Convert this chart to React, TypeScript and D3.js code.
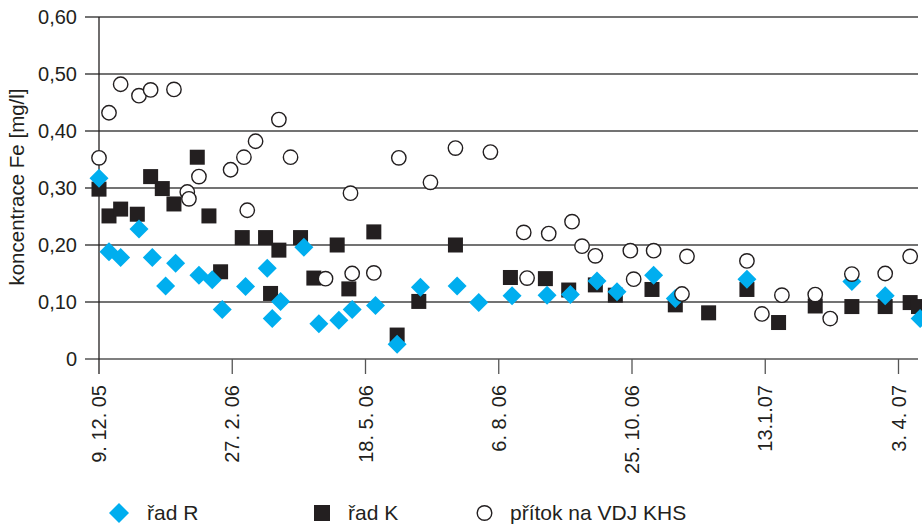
import React, { useEffect, useRef } from 'react';
import * as d3 from 'd3';

type Point = [string, number];

// řad R (modré kosočtverce)
const radR: Point[] = [
    ['2005-12-09', 0.317], ['2005-12-15', 0.188], ['2005-12-22', 0.178], ['2006-01-02', 0.228],
    ['2006-01-10', 0.178], ['2006-01-18', 0.128], ['2006-01-24', 0.168], ['2006-02-07', 0.147],
    ['2006-02-15', 0.139], ['2006-02-21', 0.087], ['2006-03-07', 0.127], ['2006-03-20', 0.159],
    ['2006-03-23', 0.071], ['2006-03-28', 0.101], ['2006-04-11', 0.196], ['2006-04-20', 0.062],
    ['2006-05-02', 0.068], ['2006-05-10', 0.087], ['2006-05-24', 0.094], ['2006-06-06', 0.026],
    ['2006-06-20', 0.126], ['2006-07-12', 0.128], ['2006-07-25', 0.099], ['2006-08-14', 0.111],
    ['2006-09-04', 0.112], ['2006-09-18', 0.113], ['2006-10-04', 0.137], ['2006-10-16', 0.118],
    ['2006-11-07', 0.147], ['2006-11-20', 0.106], ['2007-01-02', 0.140], ['2007-03-06', 0.136],
    ['2007-03-26', 0.111], ['2007-04-16', 0.071]
];

// řad K (černé čtverce)
const radK: Point[] = [
    ['2005-12-09', 0.298], ['2005-12-15', 0.251], ['2005-12-22', 0.263], ['2006-01-01', 0.254],
    ['2006-01-09', 0.320], ['2006-01-16', 0.299], ['2006-01-23', 0.272], ['2006-02-06', 0.354],
    ['2006-02-13', 0.251], ['2006-02-20', 0.153], ['2006-03-05', 0.213], ['2006-03-19', 0.213],
    ['2006-03-22', 0.115], ['2006-03-27', 0.191], ['2006-04-09', 0.213], ['2006-04-17', 0.142],
    ['2006-05-01', 0.200], ['2006-05-08', 0.123], ['2006-05-23', 0.223], ['2006-06-06', 0.042],
    ['2006-06-19', 0.101], ['2006-07-11', 0.200], ['2006-08-13', 0.143], ['2006-09-03', 0.141],
    ['2006-09-17', 0.121], ['2006-10-03', 0.130], ['2006-10-15', 0.112], ['2006-11-06', 0.122],
    ['2006-11-20', 0.095], ['2006-12-10', 0.081], ['2007-01-02', 0.122], ['2007-01-21', 0.064],
    ['2007-02-12', 0.093], ['2007-03-06', 0.092], ['2007-03-26', 0.092], ['2007-04-10', 0.099],
    ['2007-04-15', 0.092]
];

// přítok na VDJ KHS (prázdné kroužky)
const pritok: Point[] = [
    ['2005-12-09', 0.353], ['2005-12-15', 0.432], ['2005-12-22', 0.482], ['2006-01-02', 0.462],
    ['2006-01-09', 0.472], ['2006-01-23', 0.473], ['2006-01-31', 0.293], ['2006-02-01', 0.281],
    ['2006-02-07', 0.320], ['2006-02-26', 0.332], ['2006-03-06', 0.354], ['2006-03-08', 0.261],
    ['2006-03-13', 0.382], ['2006-03-27', 0.420], ['2006-04-03', 0.354], ['2006-04-24', 0.141],
    ['2006-05-09', 0.291], ['2006-05-10', 0.150], ['2006-05-23', 0.151], ['2006-06-07', 0.353],
    ['2006-06-26', 0.310], ['2006-07-11', 0.370], ['2006-08-01', 0.363], ['2006-08-21', 0.222],
    ['2006-08-23', 0.142], ['2006-09-05', 0.220], ['2006-09-19', 0.241], ['2006-09-25', 0.198],
    ['2006-10-03', 0.181], ['2006-10-24', 0.190], ['2006-10-26', 0.140], ['2006-11-07', 0.190],
    ['2006-11-24', 0.114], ['2006-11-27', 0.180], ['2007-01-02', 0.172], ['2007-01-11', 0.079],
    ['2007-01-23', 0.112], ['2007-02-12', 0.113], ['2007-02-21', 0.071], ['2007-03-06', 0.149],
    ['2007-03-26', 0.150], ['2007-04-10', 0.180]
];

const xTickDates = ['2005-12-09', '2006-02-27', '2006-05-18', '2006-08-06', '2006-10-25', '2007-01-13', '2007-04-03'];
const xTickLabels = ['9. 12. 05', '27. 2. 06', '18. 5. 06', '6. 8. 06', '25. 10. 06', '13.1.07', '3. 4. 07'];
const yTicks = [0, 0.1, 0.2, 0.3, 0.4, 0.5, 0.6];
const yTickLabels = ['0', '0,10', '0,20', '0,30', '0,40', '0,50', '0,60'];
const legendLabels = ['řad R', 'řad K', 'přítok na VDJ KHS'];

const blue = '#00aeef';
const dark = '#231f20';
const font = 'Liberation Sans, Arial, Helvetica, sans-serif';

const App = () => {
    const ref = useRef<SVGSVGElement>(null);

    useEffect(() => {
        const width = 922;
        const height = 524;
        const parse = d3.utcParse('%Y-%m-%d');

        const svg = d3.select(ref.current);
        svg.selectAll('*').remove();

        const xScale = d3.scaleUtc()
            .domain([parse('2005-12-09')!, parse('2007-04-03')!])
            .range([99, 898.5]);
        const plotRight = 918;

        const yScale = d3.scaleLinear()
            .domain([0, 0.6])
            .range([359, 17]);

        // mřížka
        svg.append('g')
            .selectAll('line')
            .data(yTicks)
            .enter()
            .append('line')
            .attr('x1', 85)
            .attr('x2', plotRight)
            .attr('y1', d => yScale(d))
            .attr('y2', d => yScale(d))
            .attr('stroke', d => d === 0 ? '#555' : '#444')
            .attr('stroke-width', 1.3);

        svg.append('g')
            .selectAll('text')
            .data(yTicks)
            .enter()
            .append('text')
            .attr('x', 77)
            .attr('y', d => yScale(d))
            .attr('dy', '0.35em')
            .attr('text-anchor', 'end')
            .attr('font-family', font)
            .attr('font-size', 20)
            .attr('fill', dark)
            .text((d, i) => yTickLabels[i]);

        // osa y
        svg.append('line')
            .attr('x1', xScale.range()[0])
            .attr('x2', xScale.range()[0])
            .attr('y1', yScale(0.6))
            .attr('y2', 374)
            .attr('stroke', dark)
            .attr('stroke-width', 1.3);

        // osa x - značky a popisky
        const tickDates = xTickDates.map(d => parse(d)!);
        svg.append('g')
            .selectAll('line')
            .data(tickDates.slice(1))
            .enter()
            .append('line')
            .attr('x1', d => xScale(d))
            .attr('x2', d => xScale(d))
            .attr('y1', yScale(0))
            .attr('y2', 374)
            .attr('stroke', '#555')
            .attr('stroke-width', 1.3);

        svg.append('g')
            .selectAll('text')
            .data(tickDates)
            .enter()
            .append('text')
            .attr('transform', d => `translate(${xScale(d)}, 385) rotate(-90)`)
            .attr('dy', '0.35em')
            .attr('text-anchor', 'end')
            .attr('font-family', font)
            .attr('font-size', 20)
            .attr('fill', dark)
            .text((d, i) => xTickLabels[i]);

        svg.append('text')
            .attr('transform', 'translate(17, 187) rotate(-90)')
            .attr('dy', '0.35em')
            .attr('text-anchor', 'middle')
            .attr('font-family', font)
            .attr('font-size', 20.5)
            .attr('fill', dark)
            .text('koncentrace Fe [mg/l]');

        const diamond = (s: number) => `M0,${-s}L${s},0L0,${s}L${-s},0Z`;

        // body
        svg.append('g')
            .selectAll('rect')
            .data(radK)
            .enter()
            .append('rect')
            .attr('x', d => xScale(parse(d[0])!) - 7.5)
            .attr('y', d => yScale(d[1]) - 7.5)
            .attr('width', 15)
            .attr('height', 15)
            .attr('fill', dark);

        svg.append('g')
            .selectAll('path')
            .data(radR)
            .enter()
            .append('path')
            .attr('transform', d => `translate(${xScale(parse(d[0])!)}, ${yScale(d[1])})`)
            .attr('d', diamond(9.5))
            .attr('fill', blue);

        svg.append('g')
            .selectAll('circle')
            .data(pritok)
            .enter()
            .append('circle')
            .attr('cx', d => xScale(parse(d[0])!))
            .attr('cy', d => yScale(d[1]))
            .attr('r', 7.2)
            .attr('fill', '#fff')
            .attr('stroke', dark)
            .attr('stroke-width', 1.4);

        // legenda
        const legendY = 513;
        const legend = svg.append('g').attr('class', 'legendGroup');
        legend.append('path')
            .attr('transform', `translate(119, ${legendY})`)
            .attr('d', diamond(10))
            .attr('fill', blue);
        legend.append('rect')
            .attr('x', 314)
            .attr('y', legendY - 8)
            .attr('width', 16)
            .attr('height', 16)
            .attr('fill', dark);
        legend.append('circle')
            .attr('cx', 484.5)
            .attr('cy', legendY)
            .attr('r', 7.3)
            .attr('fill', '#fff')
            .attr('stroke', dark)
            .attr('stroke-width', 1.4);

        legend.selectAll('text')
            .data(legendLabels)
            .enter()
            .append('text')
            .attr('x', (d, i) => [147, 348, 510][i])
            .attr('y', legendY)
            .attr('dy', '0.35em')
            .attr('font-family', font)
            .attr('font-size', 21)
            .attr('fill', dark)
            .text(d => d);

        svg.attr('width', width).attr('height', height);
    }, []);

    return (
        <svg
            ref={ref}
            width={922}
            height={524}
            style={{ position: 'absolute', left: 0, top: 0, background: '#fff', display: 'block' }}
        />
    );
};

export default App;
